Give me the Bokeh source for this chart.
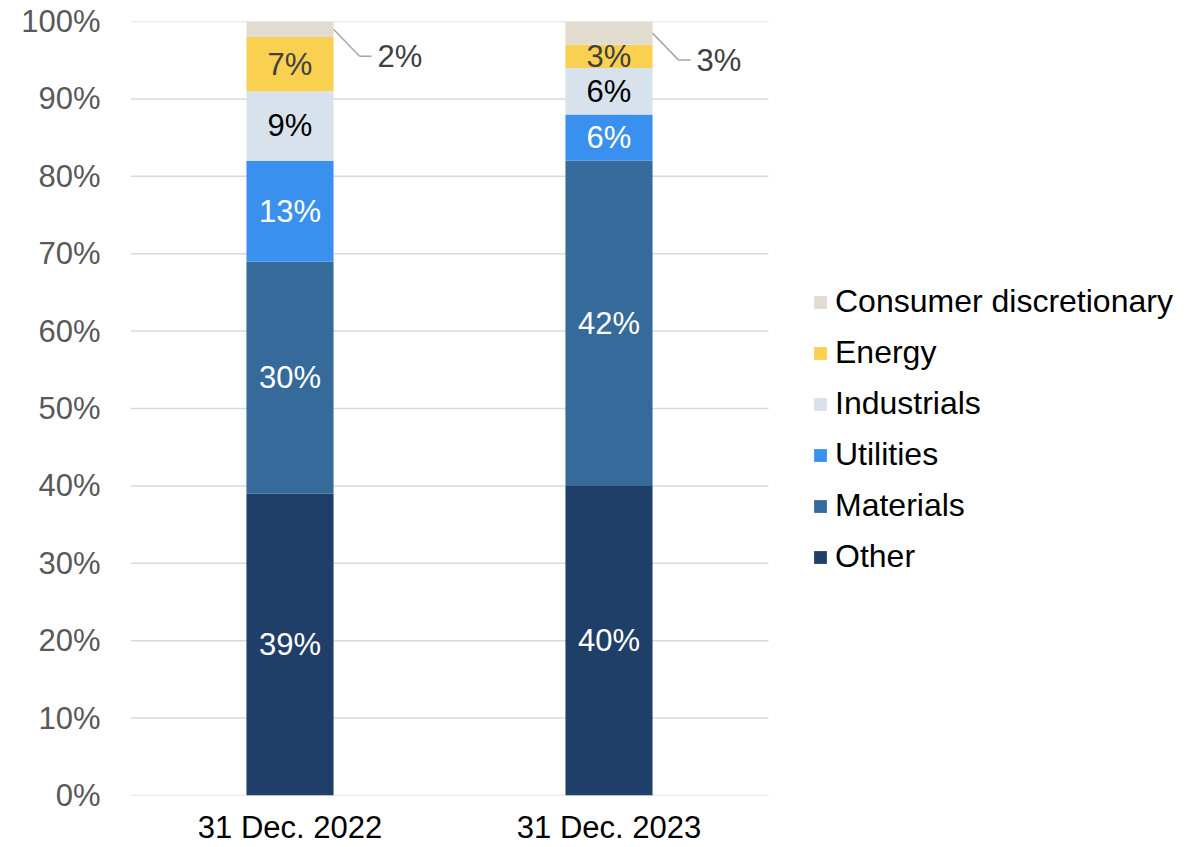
from bokeh.plotting import figure
from bokeh.models import Range1d, FixedTicker, Legend, LegendItem, ColumnDataSource
from bokeh.core.properties import value
from bokeh.embed import file_html
from bokeh.resources import INLINE

dates = ["31 Dec. 2022", "31 Dec. 2023"]
sectors = ["Other", "Materials", "Utilities", "Industrials", "Energy", "Consumer discretionary"]
other = [39, 40]
materials = [30, 42]
utilities = [13, 6]
industrials = [9, 6]
energy = [7, 3]
consumer = [2, 3]
colors = ["#1F3F68", "#356A9A", "#3A90EE", "#D8E2EC", "#F9D04F", "#E1DBD0"]
label_colors = ["#FFFFFF", "#FFFFFF", "#FFFFFF", "#000000", "#404040", "#404040"]
y_ticks = [0, 10, 20, 30, 40, 50, 60, 70, 80, 90, 100]

series = [other, materials, utilities, industrials, energy, consumer]
FONT = "Liberation Sans"
FS = "31px"
W, H = 1190, 847
ML, MT, MB = 130, 21, 52
MR = 0
PLOT_W = 638          # pixel width of the category area
FW, FH = W - ML - MR, H - MT - MB
px_x = PLOT_W / len(dates)
px_y = FH / 100.0

p = figure(width=W, height=H, output_backend="svg", toolbar_location=None,
           x_range=Range1d(0, FW / px_x), y_range=Range1d(0, 100),
           min_border_left=ML, min_border_right=MR, min_border_top=MT, min_border_bottom=MB)
p.outline_line_color = None
p.background_fill_color = "white"
p.border_fill_color = "white"

# gridlines across the category area only
p.segment(x0=[0] * len(y_ticks), x1=[len(dates)] * len(y_ticks), y0=y_ticks, y1=y_ticks,
          line_color="#D9D9D9", line_width=1.5)

xs = [i + 0.5 for i in range(len(dates))]
bw = 0.273
renderers = []
bottoms = [0.0] * len(dates)
for name, vals, col in zip(sectors, series, colors):
    tops = [b + v for b, v in zip(bottoms, vals)]
    src = ColumnDataSource(dict(x=xs, bottom=bottoms, top=tops))
    r = p.vbar(x="x", width=bw, bottom="bottom", top="top", source=src,
               fill_color=col, line_color=None)
    renderers.append(r)
    bottoms = tops

# data labels
bottoms = [0.0] * len(dates)
lx, ly, lt, lc = [], [], [], []
cx, cy, ct = [], [], []
seg_x0, seg_y0, seg_x1, seg_y1 = [], [], [], []
for si, (name, vals) in enumerate(zip(sectors, series)):
    for i, v in enumerate(vals):
        mid = bottoms[i] + v / 2
        if name == "Consumer discretionary":
            x0 = xs[i] + bw / 2
            y0 = mid
            x1 = x0 + 26 / px_x
            y1 = mid - 27 / px_y
            x2 = x1 + 12 / px_x
            seg_x0 += [x0, x1]
            seg_y0 += [y0, y1]
            seg_x1 += [x1, x2]
            seg_y1 += [y1, y1]
            cx.append(x2 + 6 / px_x)
            cy.append(y1)
            ct.append(f"{v}%")
        else:
            lx.append(xs[i]); ly.append(mid); lt.append(f"{v}%"); lc.append(label_colors[si])
    bottoms = [b + v for b, v in zip(bottoms, vals)]

p.text(x=lx, y=ly, text=lt, text_color=lc, text_align="center", text_baseline="middle",
       text_font=value(FONT), text_font_size=FS)
p.segment(x0=seg_x0, y0=seg_y0, x1=seg_x1, y1=seg_y1, line_color="#A6A6A6", line_width=1.5)
p.text(x=cx, y=cy, text=ct, text_color="#404040", text_align="left", text_baseline="middle",
       text_font=value(FONT), text_font_size=FS)

# axes
p.xaxis.ticker = FixedTicker(ticks=xs)
p.xaxis.major_label_overrides = {x: d for x, d in zip(xs, dates)}
p.xaxis.major_tick_line_color = None
p.xaxis.major_tick_out = 0
p.xaxis.major_tick_in = 0
p.xaxis.minor_tick_line_color = None
p.xaxis.axis_line_color = None
p.xaxis.major_label_text_font = FONT
p.xaxis.major_label_text_font_size = FS
p.xaxis.major_label_text_color = "#000000"
p.xaxis.major_label_standoff = 14
p.xgrid.grid_line_color = None

p.yaxis.ticker = FixedTicker(ticks=y_ticks)
p.yaxis.major_label_overrides = {t: f"{t}%" for t in y_ticks}
p.yaxis.major_tick_line_color = None
p.yaxis.major_tick_out = 0
p.yaxis.major_tick_in = 0
p.yaxis.minor_tick_line_color = None
p.yaxis.axis_line_color = None
p.yaxis.major_label_text_font = FONT
p.yaxis.major_label_text_font_size = FS
p.yaxis.major_label_text_color = "#595959"
p.yaxis.major_label_standoff = 30
p.ygrid.grid_line_color = None

items = [LegendItem(label=n, renderers=[r]) for n, r in zip(sectors, renderers)][::-1]
legend = Legend(items=items, location=(682, 213), orientation="vertical",
                glyph_width=16, glyph_height=16, label_height=51, spacing=0,
                label_standoff=7, padding=0, margin=0,
                label_text_font=FONT, label_text_font_size="32px", label_text_color="#000000",
                border_line_color=None, background_fill_alpha=0)
p.add_layout(legend, "center")

open("out.html", "w").write(file_html(p, INLINE))
